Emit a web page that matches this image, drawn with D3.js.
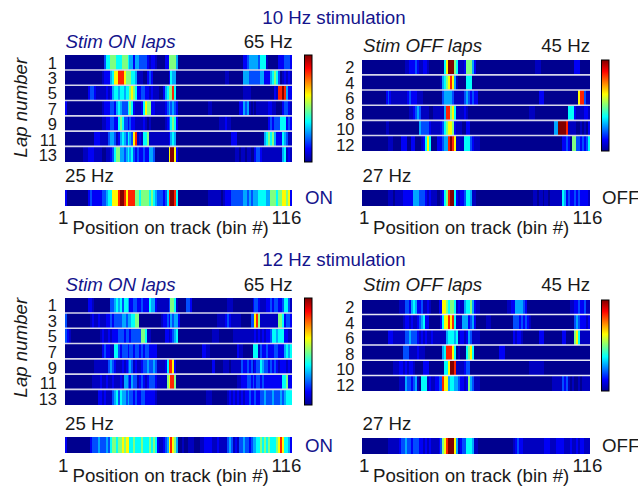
<!DOCTYPE html>
<html><head><meta charset="utf-8">
<script src="https://cdn.jsdelivr.net/npm/d3@7/dist/d3.min.js"></script>
<style>html,body{margin:0;padding:0;background:#fff}svg{display:block}text{font-family:"Liberation Sans",Arial,sans-serif;fill:#1a1a1a}</style>
</head><body><svg id="c" width="638" height="487"></svg>
<script>
// Firing-rate levels per spatial bin (0 = navy ... 9 = dark red)
const on10Rows = [
[0,0,0,0,0,0,0,0,0,0, 0,0,0,0,0,0,0,0,0,0, 3,5,5,6,6,6,5,5,5,6, 6,6,5,4,4,2,4,4,3,3, 3,3,2,1,2,2,1,0,0,0, 0,2,2,6,6,6,6,4,0,0, 0,0,0,0,0,0,0,0,0,0, 0,0,0,0,0,0,0,0,0,0, 0,0,0,0,0,0,0,0,0,0, 0,2,2,3,4,4,4,4,4,3, 5,5,5,1,0,0,0,0,0,2, 2,2,3,3,3,2],
[0,0,0,0,0,0,0,0,0,0, 0,0,0,0,0,0,0,0,0,1, 2,2,2,4,5,7,7,8,8,8, 7,6,6,6,5,5,4,1,1,1, 0,0,2,3,2,0,0,0,0,0, 0,0,0,2,5,4,4,0,0,0, 0,0,0,0,0,0,0,0,0,0, 0,0,0,0,0,0,0,0,0,0, 0,0,1,1,0,0,0,0,0,0, 0,4,4,4,3,3,3,3,3,3, 4,4,2,2,2,4,5,6,5,3, 0,1,2,1,2,1],
[0,0,0,0,0,0,0,0,0,0, 0,0,2,3,3,2,1,1,1,1, 1,2,1,2,4,5,5,4,5,5, 4,5,5,6,7,6,5,2,2,3, 3,2,2,1,2,1,1,1,0,0, 2,4,5,6,6,8,5,0,0,0, 0,0,0,0,0,0,0,0,0,0, 0,0,0,0,0,0,0,0,0,0, 0,0,0,0,0,0,0,0,0,0, 0,1,1,1,1,0,0,0,0,0, 0,0,0,0,0,0,0,2,1,8, 8,9,8,4,2,2],
[2,0,0,0,0,0,0,0,0,0, 0,0,0,0,0,0,0,0,0,1, 2,2,2,3,3,2,4,5,4,3, 3,3,5,6,5,2,1,1,1,2, 5,7,6,6,2,2,1,1,1,1, 1,2,3,4,3,4,3,2,0,0, 0,0,0,0,0,0,0,0,0,0, 0,0,0,1,1,0,0,0,0,0, 0,0,0,0,0,0,0,0,0,2, 2,4,3,4,1,0,1,0,1,1, 1,1,1,1,2,2,1,1,0,0, 0,2,3,3,2,1],
[0,0,0,0,0,0,0,0,0,0, 0,0,0,0,0,0,0,0,0,1, 1,2,2,3,3,2,2,5,6,5, 3,3,2,3,2,2,1,1,1,1, 2,1,0,1,0,0,0,0,0,0, 0,1,2,3,5,6,5,2,0,0, 0,0,0,0,0,0,0,0,0,0, 0,0,0,0,0,0,0,0,0,1, 1,1,2,1,1,0,0,0,0,0, 0,0,0,0,0,0,0,0,0,0, 0,0,0,0,2,3,2,3,3,3, 5,5,5,2,3,2],
[0,0,0,0,0,0,0,0,0,0, 0,0,0,0,0,2,2,2,1,1, 1,1,3,4,4,3,1,2,4,5, 4,3,5,4,3,7,8,1,2,1, 5,5,6,1,1,1,1,1,1,1, 1,1,1,2,4,5,4,0,0,0, 0,0,0,0,0,0,0,0,0,0, 0,0,0,0,0,0,0,0,0,0, 0,0,0,0,0,2,2,2,0,0, 0,0,0,0,0,0,0,0,0,0, 0,0,4,5,6,5,6,4,2,2, 2,5,4,3,1,1],
[0,0,0,0,0,0,0,0,0,1, 1,1,2,2,2,1,1,1,1,0, 0,1,1,2,3,5,6,6,4,4, 3,4,5,4,5,3,2,3,2,2, 3,2,2,4,4,3,0,0,0,0, 0,0,0,7,9,9,7,2,0,0, 0,0,0,0,0,0,0,0,0,0, 0,0,0,0,0,0,0,0,0,0, 0,0,0,0,0,0,0,1,1,0, 1,1,0,1,1,0,0,2,3,3, 2,1,1,1,1,1,1,1,1,1, 1,4,5,1,2,1]
];
const off10Rows = [
[0,0,0,0,0,0,0,0,0,0, 0,0,0,0,0,0,0,0,0,0, 0,0,1,1,2,2,2,3,2,1, 1,2,2,1,0,0,0,0,0,0, 0,0,5,7,9,9,9,6,5,1, 1,1,2,6,6,6,4,2,0,0, 0,0,0,0,0,0,0,0,0,0, 0,0,0,0,0,0,0,0,0,0, 0,0,0,0,0,0,0,0,1,1, 1,0,0,0,0,0,0,0,0,0, 0,0,0,0,0,0,0,0,2,2, 2,0,0,0,0,0],
[0,0,0,0,0,0,0,0,0,0, 0,0,0,0,0,0,0,0,0,0, 0,0,0,0,0,0,0,0,0,0, 0,0,0,0,0,0,0,0,0,0, 1,4,5,6,7,8,7,4,1,0, 0,0,0,5,5,5,0,0,0,0, 0,0,0,0,0,0,0,0,0,0, 0,0,0,0,0,0,0,0,0,0, 0,0,0,0,0,0,0,0,0,0, 0,0,0,0,0,0,0,0,0,0, 0,0,0,0,0,0,0,0,0,0, 0,0,0,0,0,0],
[0,0,0,0,0,0,0,0,0,0, 0,0,2,3,2,1,1,1,1,1, 1,1,1,2,3,2,2,2,1,1, 1,0,0,0,0,0,0,0,0,0, 0,3,4,4,4,4,3,1,1,1, 1,1,3,4,3,2,3,2,2,0, 0,0,0,0,0,0,0,0,0,0, 0,0,0,0,0,0,0,0,0,0, 0,0,0,0,0,0,0,0,0,0, 2,2,2,0,0,0,0,0,0,0, 0,0,0,0,0,0,0,0,0,0, 7,8,8,3,1,1],
[0,0,0,0,0,0,0,0,0,0, 0,0,0,0,0,0,0,0,0,0, 0,0,0,0,1,1,2,3,4,3, 1,1,1,1,0,0,1,1,1,1, 1,1,4,8,8,6,7,5,1,1, 1,1,2,1,0,0,0,0,0,0, 0,0,0,0,0,0,0,0,0,0, 0,0,0,0,0,0,0,0,0,0, 0,0,0,0,0,1,1,1,0,0, 0,0,0,0,0,0,0,0,0,0, 0,0,0,0,0,5,5,5,2,1, 1,1,1,2,2,1],
[0,0,0,0,0,0,0,0,0,0, 0,0,1,1,0,0,0,0,0,0, 0,0,0,0,0,0,0,0,0,4, 3,3,3,3,2,1,1,1,1,1, 2,3,5,6,7,7,6,2,1,1, 1,0,0,2,2,0,0,0,0,0, 0,0,0,0,0,0,0,0,0,0, 0,0,0,0,0,0,0,0,0,0, 0,0,0,0,0,0,0,0,0,0, 0,0,0,0,0,0,0,0,4,4, 9,9,9,9,8,1,1,1,1,0, 0,1,0,1,0,2],
[0,0,0,0,0,0,0,0,0,0, 0,0,0,1,1,1,0,0,0,0, 2,2,2,0,0,2,2,0,0,0, 1,2,5,7,5,0,0,0,2,2, 2,3,4,4,8,9,8,7,1,1, 1,1,5,5,5,3,2,1,1,1, 0,0,0,0,0,0,0,0,0,0, 0,0,0,0,0,0,0,0,0,0, 0,0,0,0,0,0,0,0,0,0, 0,0,0,0,0,0,0,0,0,0, 0,0,2,2,3,2,0,6,6,3, 3,2,3,2,3,5]
];
const on10Mean = [2,0,0,0,0,0,0,0,0,0, 0,0,2,3,2,2,2,2,2,3, 3,4,5,5,7,7,7,8,9,9, 8,7,8,8,8,8,6,6,5,6, 6,6,6,5,6,5,4,3,3,3, 2,3,5,8,9,9,8,5,0,0, 0,0,0,0,0,0,0,0,0,0, 0,0,0,1,1,1,1,1,1,1, 0,1,2,2,2,3,3,3,3,3, 3,4,4,3,4,3,4,4,4,5, 5,5,5,4,4,6,6,6,5,6, 6,7,7,6,7,2];
const off10Mean = [0,0,0,0,0,0,0,0,0,0, 0,0,0,1,1,1,0,1,1,1, 1,2,2,2,2,2,4,4,4,3, 3,3,2,1,2,1,1,1,0,0, 1,2,5,6,8,9,9,5,2,1, 2,2,3,5,5,4,1,1,0,0, 0,0,0,0,0,0,0,0,0,0, 0,0,0,0,0,0,0,0,0,0, 0,0,0,0,0,0,0,1,1,0, 1,1,0,1,1,0,1,1,1,1, 1,1,5,4,2,3,2,2,3,2, 3,2,2,2,2,1];
const on12Rows = [
[0,0,0,0,0,0,0,0,0,0, 0,0,2,2,1,0,0,0,0,0, 0,0,0,3,3,4,5,4,5,3, 5,5,4,2,2,3,3,2,2,3, 2,2,2,5,4,4,2,1,1,1, 1,1,1,3,6,6,5,1,0,0, 0,0,3,3,2,0,0,0,0,0, 0,0,0,0,0,0,0,0,0,0, 0,0,0,1,1,1,0,0,0,0, 0,0,0,0,0,0,2,3,3,2, 1,1,1,2,2,3,2,3,3,2, 2,3,5,5,3,1],
[3,0,0,0,0,0,0,0,0,0, 0,0,0,1,2,1,1,2,1,1, 1,2,2,3,2,3,3,3,3,4, 4,3,4,4,5,5,6,6,0,0, 0,0,0,0,0,0,0,0,0,1, 2,2,3,2,4,3,4,4,2,0, 0,0,0,0,0,0,0,0,0,0, 0,0,0,0,0,0,0,0,1,1, 1,1,2,3,2,1,1,1,1,1, 0,0,0,0,0,3,3,7,8,6, 1,1,1,1,1,1,1,1,1,6, 6,5,2,3,3,2],
[3,2,1,0,0,0,0,0,0,0, 0,0,0,0,0,0,0,0,1,2, 1,1,2,1,2,2,2,3,3,3, 2,3,3,2,3,3,3,3,3,6, 6,5,1,1,0,0,0,0,0,0, 0,2,2,1,2,3,4,5,0,0, 0,0,0,0,0,0,0,0,0,0, 0,0,0,0,0,1,1,1,1,0, 0,0,0,0,0,0,1,1,1,1, 1,1,1,1,1,1,1,2,1,2, 1,2,1,2,2,3,5,5,4,5, 5,5,2,2,1,1],
[0,0,0,0,0,0,0,0,0,0, 0,0,0,0,0,0,0,0,0,2, 3,2,2,1,1,5,5,3,2,3, 3,3,2,3,3,2,3,3,2,3, 2,3,3,2,2,2,2,0,0,0, 0,0,0,0,0,0,0,0,0,0, 0,0,0,0,0,0,0,0,0,0, 2,2,1,1,0,0,0,0,0,0, 0,0,0,0,0,0,0,0,2,1, 1,0,0,0,0,0,5,5,5,1, 3,2,2,3,2,2,2,3,3,2, 2,2,4,5,4,5],
[0,0,0,0,0,0,0,0,0,0, 0,0,0,0,0,1,1,1,1,1, 1,1,3,4,3,2,1,1,1,2, 1,2,3,4,3,1,2,1,1,2, 3,3,4,3,3,4,3,1,1,1, 1,2,5,8,8,7,2,0,0,0, 0,0,0,0,0,0,0,0,0,0, 0,0,0,0,0,2,2,0,0,0, 0,1,1,1,0,1,1,1,1,1, 3,2,2,3,2,3,1,2,3,3, 5,4,3,3,2,3,2,3,2,1, 2,2,2,1,2,1],
[0,0,0,0,0,0,0,0,0,0, 0,0,0,0,1,1,1,1,2,1, 1,2,1,1,2,1,1,1,2,1, 4,4,3,2,4,3,3,1,2,3, 2,1,2,3,3,3,2,1,1,1, 1,1,6,7,8,8,6,0,0,0, 0,0,0,0,0,0,0,0,0,0, 0,0,0,0,0,0,0,0,0,0, 0,0,0,0,0,0,0,0,1,1, 2,2,2,3,3,2,3,2,3,3, 2,3,2,2,2,2,2,2,2,2, 2,5,5,6,2,2],
[0,0,0,0,0,0,0,0,0,0, 0,0,0,0,0,0,0,2,2,1, 2,1,1,1,3,4,5,3,5,4, 4,3,4,3,3,2,3,2,2,3, 3,2,2,2,2,2,1,0,0,0, 0,0,0,0,0,0,0,0,0,0, 0,0,0,0,0,0,0,0,0,0, 0,0,1,1,1,0,0,0,0,0, 0,0,0,1,2,1,2,1,2,1, 2,1,2,2,3,2,2,3,2,2, 3,3,4,3,3,3,4,3,3,3, 4,3,4,5,5,5]
];
const off12Rows = [
[0,0,0,0,0,0,0,0,0,0, 0,0,0,0,0,0,0,0,0,1, 1,1,3,3,2,4,5,4,2,2, 3,1,1,2,1,0,0,0,0,2, 2,7,7,6,5,6,6,5,1,2, 1,1,4,5,5,6,4,2,1,1, 0,0,0,0,0,0,0,0,0,0, 0,0,0,0,1,1,2,2,4,4, 4,4,3,2,0,0,0,0,0,0, 0,0,0,0,0,0,0,0,0,0, 0,0,0,0,0,0,1,1,2,2, 3,2,2,3,1,1],
[0,0,0,0,0,0,0,0,0,0, 0,0,0,0,0,0,0,0,0,0, 0,1,2,2,1,2,1,1,2,3, 4,5,2,2,0,0,0,0,0,0, 2,5,7,7,8,7,8,5,1,1, 1,4,4,4,2,3,4,2,0,0, 0,0,0,1,1,1,0,0,0,0, 0,0,0,0,0,0,0,3,3,3, 2,3,2,3,2,1,0,0,0,0, 0,0,0,0,0,0,0,0,0,0, 0,0,0,0,0,0,0,0,3,4, 3,2,2,2,1,2],
[0,0,0,0,0,0,0,0,0,0, 0,0,0,2,2,2,1,1,1,1, 1,1,3,3,4,3,3,3,2,1, 2,1,2,1,1,2,1,1,1,1, 1,1,1,4,5,5,5,4,5,1, 2,2,1,2,4,3,1,1,1,1, 0,0,0,0,0,0,0,0,0,0, 0,0,0,0,0,0,0,2,1,2, 2,1,0,0,0,0,0,0,0,0, 2,2,2,0,0,0,0,0,0,0, 0,0,2,2,0,0,0,0,6,7, 5,1,1,1,1,1],
[0,0,0,0,0,0,0,0,0,0, 0,0,0,0,0,0,0,0,0,0, 0,3,3,3,1,1,1,1,2,1, 1,1,0,0,0,0,0,0,0,0, 0,4,5,8,8,8,7,5,0,1, 0,0,0,5,6,7,5,0,0,0, 0,0,0,0,0,0,0,0,0,0, 2,2,2,0,0,0,0,0,0,0, 0,0,0,0,0,0,0,0,0,0, 0,0,0,0,0,0,0,0,0,0, 0,0,0,0,0,0,0,0,0,0, 0,0,0,0,0,0],
[0,0,0,0,0,0,0,0,0,0, 0,0,0,0,0,0,1,1,1,2, 2,1,2,1,2,2,1,0,0,0, 0,2,2,2,0,0,0,0,0,0, 0,0,5,5,7,9,9,8,1,1, 1,1,2,3,3,0,0,0,0,0, 0,0,0,0,0,0,0,0,0,0, 0,0,0,0,0,0,0,0,0,0, 0,0,0,0,0,1,1,1,1,1, 1,1,1,0,0,0,0,0,0,0, 0,0,0,0,0,0,0,0,0,0, 0,0,0,0,0,0],
[0,0,0,0,0,0,0,0,0,0, 0,0,0,0,0,0,0,0,0,1, 1,1,4,3,3,2,3,4,1,0, 5,5,5,1,2,1,1,2,2,3, 3,8,7,7,4,5,5,4,4,3, 2,2,1,2,6,4,3,1,1,1, 0,0,0,0,0,0,0,0,0,0, 0,0,0,0,0,0,0,0,0,0, 0,0,0,0,0,0,0,0,0,0, 0,0,0,0,0,0,0,1,1,1, 1,1,3,2,3,1,0,1,0,0, 1,0,1,1,1,1]
];
const on12Mean = [2,0,0,0,0,0,0,0,0,0, 0,0,0,2,3,3,3,4,3,3, 3,4,3,5,6,6,5,6,6,7, 6,7,7,5,5,6,5,5,5,6, 5,5,5,6,5,6,5,2,1,1, 2,3,4,7,8,7,6,4,0,0, 1,0,0,1,1,1,0,0,0,1, 1,2,2,2,2,1,1,1,2,1, 1,1,1,3,4,3,1,2,1,3, 3,4,3,3,2,3,4,4,5,5, 6,5,6,5,6,5,5,5,6,7, 8,7,5,5,4,2];
const off12Mean = [0,0,0,0,0,0,0,0,0,0, 0,0,0,1,1,1,1,1,1,2, 3,3,4,3,3,2,3,3,3,2, 2,1,2,1,2,1,1,1,1,2, 3,6,7,8,9,9,9,7,4,1, 2,3,3,5,5,5,4,1,1,0, 0,0,0,0,0,0,0,0,0,0, 0,0,0,0,0,0,0,1,2,3, 2,2,1,1,1,1,1,1,1,1, 1,1,1,2,2,2,1,1,1,2, 2,2,2,1,1,1,2,1,1,2, 1,2,2,1,1,1];
const onLaps = ["1","3","5","7","9","11","13"];
const offLaps = ["2","4","6","8","10","12"];
const binTicks = ["1","116"];

const navy = "#14148c";
const jet = d3.scaleLinear()
  .domain([0,.125,.375,.625,.875,1])
  .range(["#00008f","#0000ff","#00ffff","#ffff00","#ff0000","#800000"])
  .interpolate(d3.interpolateRgb);
const level = d3.scaleLinear().domain([0,1,2,3,4,5,6,7,8,9]).range([0,.055,.115,.2,.29,.38,.5,.63,.84,1]);
const svg = d3.select("#c");
const FS = 18.7;

const soft = svg.append("defs").append("filter").attr("id","soft")
  .attr("x","-1%").attr("width","102%").attr("y","0").attr("height","100%");
soft.append("feGaussianBlur").attr("stdDeviation","0.45 0");

function txt(x,y,s,o={}){
  return svg.append("text").attr("x",x).attr("y",y).text(s)
    .attr("text-anchor",o.anchor||"start").style("font-size",(o.size||FS)+"px")
    .style("font-style",o.italic?"italic":"normal").style("fill",o.fill||"#1a1a1a");
}
function strip(row,xs,y,h){
  const bw = xs(1)-xs(0);
  svg.append("g").attr("filter","url(#soft)").attr("shape-rendering","crispEdges").selectAll("rect").data(row).join("rect")
    .attr("x",(d,i)=>xs(i)).attr("y",y).attr("width",bw+.4).attr("height",h)
    .attr("fill",d=>jet(level(d)));
}
function heat(rows,labels,x0,x1,y0,y1,labelX,sep,labTop,labBot){
  const xs = d3.scaleLinear().domain([0,116]).range([x0,x1-.4]);
  const ys = d3.scaleBand().domain(labels).range([y0,y1]);
  const yl = d3.scalePoint().domain(labels).range([labTop,labBot]);
  rows.forEach((r,i)=>strip(r,xs,ys(labels[i]),ys.bandwidth()));
  svg.append("g").selectAll("line").data(labels.slice(1)).join("line")
    .attr("x1",x0).attr("x2",x1).attr("y1",d=>ys(d)-.3).attr("y2",d=>ys(d)-.3)
    .attr("stroke",sep).attr("stroke-width",1.6);
  labels.forEach(l=>txt(labelX,yl(l)+6,l,{anchor:"end",size:16.5}));
}
function bar(x,y0,y1,id){
  const g = svg.append("defs").append("linearGradient").attr("id",id).attr("x1",0).attr("x2",0).attr("y1",1).attr("y2",0);
  d3.range(0,1.001,.125).forEach(t=>g.append("stop").attr("offset",t).attr("stop-color",jet(t)));
  svg.append("rect").attr("x",x).attr("y",y0).attr("width",7.5).attr("height",y1-y0)
    .attr("fill",`url(#${id})`).attr("stroke","#000").attr("stroke-width",1);
}
function bottom(rowOn,rowOff,dy,dyR,dyText){
  const xl = d3.scaleLinear().domain([0,116]).range([65,291.6]);
  const xr = d3.scaleLinear().domain([0,116]).range([362,589.6]);
  strip(rowOn,xl,190+dy,15.7);
  strip(rowOff,xr,190+dyR,15.7);
  txt(65,181.5+dyText,"25 Hz");
  txt(362.5,181.5+dyText,"27 Hz");
  txt(305,204+dyText,"ON",{fill:navy});
  txt(602,204+dyText,"OFF");
  txt(58,224+dyText-.3,binTicks[0]);
  txt(271.5,224+dyText-.3,binTicks[1]);
  txt(359,224+dyText-.3,binTicks[0]);
  txt(572.5,224+dyText-.3,binTicks[1]);
  txt(72.5,234+dyText,"Position on track (bin #)");
  txt(373,234+dyText,"Position on track (bin #)");
}

// 10 Hz block
txt(334,24,"10 Hz stimulation",{anchor:"middle",fill:navy});
txt(65.5,47.5,"Stim ON laps",{italic:true,fill:navy});
txt(292.5,47.5,"65 Hz",{anchor:"end"});
txt(363,51.5,"Stim OFF laps",{italic:true});
txt(590,51.5,"45 Hz",{anchor:"end"});
heat(on10Rows,onLaps,65,292,55,162,57,"#d6d6ea",62.5,155);
heat(off10Rows,offLaps,362,590,60,151,354.5,"#d6d6ea",67,145);
bar(304.5,55,162,"cb1");
bar(601.5,60,151,"cb2");
svg.append("text").attr("transform","translate(27,157.5) rotate(-90)").text("Lap number")
  .style("font-size",FS+"px").style("font-style","italic");
bottom(on10Mean,off10Mean,0,0,0);

// 12 Hz block
txt(334,266,"12 Hz stimulation",{anchor:"middle",fill:navy});
txt(65.5,291,"Stim ON laps",{italic:true,fill:navy});
txt(292.5,291,"65 Hz",{anchor:"end"});
txt(363,291,"Stim OFF laps",{italic:true});
txt(590,291,"45 Hz",{anchor:"end"});
heat(on12Rows,onLaps,65,292,298,405,57,"#d6d6ea",305,399);
heat(off12Rows,offLaps,362,590,299.5,391,354.5,"#e8e8f4",307,385);
bar(304.5,298,405,"cb3");
bar(601.5,300,391,"cb4");
svg.append("text").attr("transform","translate(27,397.5) rotate(-90)").text("Lap number")
  .style("font-size",FS+"px").style("font-style","italic");
bottom(on12Mean,off12Mean,247,248,248);
</script></body></html>
